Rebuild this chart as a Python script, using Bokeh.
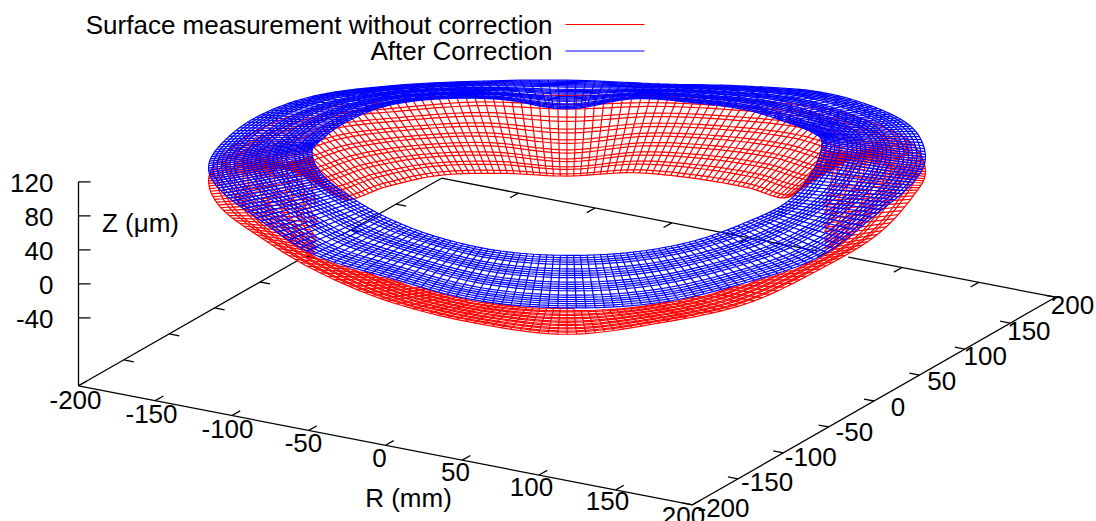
import numpy as np
from bokeh.plotting import figure
from bokeh.models import Range1d
from bokeh.core.properties import value
from bokeh.embed import file_html
from bokeh.resources import INLINE

# ---- values -----------------------------------------------------------
legend_labels = ["Surface measurement without correction", "After Correction"]
z_ticks = [-40, 0, 40, 80, 120]
x_ticks = [-200, -150, -100, -50, 0, 50, 100, 150, 200]
y_ticks = [-200, -150, -100, -50, 0, 50, 100, 150, 200]
red_rings = [143, 145.5, 150.2, 152.7, 157.5, 160, 164.7, 167.2,
             172, 174.5, 179.2, 181.7, 186.5, 189, 193.7, 196.2, 201]
blue_rings = [143, 145.5, 148, 150.2, 152.7, 157.5, 160, 162.5, 164.7, 167.2,
              172, 174.5, 177, 179.2, 181.7, 186.5, 189, 191.5, 193.7, 196.2, 198.6, 201]
mid_radius = 172
# z (um) at every 15 degrees round the ring, seen from the view direction
angle_step = 15
blue_outer = [95, 92, 82, 72, 57, 46, 46, 50, 59, 70, 75, 77, 86, 96, 98, 84, 79, 66, 61, 62, 71, 79, 100, 102]
blue_middle = [103, 95, 84, 76, 65, 57, 50, 59, 69, 78, 82, 85, 95, 101, 101, 91, 85, 75, 71, 72, 78, 85, 97, 104]
blue_inner = [112, 98, 86, 80, 73, 68, 53, 68, 79, 87, 89, 92, 104, 106, 105, 98, 90, 84, 82, 82, 85, 91, 94, 106]
red_outer = [78, 73, 63, 54, 40, 32, 28, 34, 40, 54, 59, 62, 71, 76, 78, 66, 51, 39, 30, 38, 46, 64, 75, 86]
red_middle = [88, 66, 30, 21, 12, 4, -8, 5, 14, 23, 30, 58, 80, 73, 59, 49, 38, 30, 25, 29, 35, 47, 57, 78]
red_inner = [104, 55, -2, -11, -16, -19, -26, -19, -11, -8, -2, 45, 98, 70, 40, 32, 26, 21, 21, 20, 24, 30, 40, 70]

# ---- view (gnuplot-like orthographic projection, page pixels) ----------
W, H = 1096, 521
CX, CY = 566.5, 341.0
XV = (1.535, 0.2975)
YV = (0.9075, -0.519)
ZS, Z0 = 0.85, -120
ROT = np.radians(30.6)
R_IN, R_OUT = 143.0, 201.0


def proj(x, y, z):
    x, y, z = np.asarray(x, float), np.asarray(y, float), np.asarray(z, float)
    return CX + XV[0] * x + YV[0] * y, CY + XV[1] * x + YV[1] * y - ZS * (z - Z0)


def around(table, deg):
    t = np.asarray(table, float)
    n = len(t)
    s = np.asarray(deg) / angle_step
    i = np.floor(s).astype(int)
    f = s - i
    p0, p1, p2, p3 = t[(i - 1) % n], t[i % n], t[(i + 1) % n], t[(i + 2) % n]
    return 0.5 * (2 * p1 + (p2 - p0) * f + (2 * p0 - 5 * p1 + 4 * p2 - p3) * f ** 2 + (3 * p1 - p0 - 3 * p2 + p3) * f ** 3)


def height(inner, middle, outer, deg, r):
    a, b, c = R_IN, mid_radius, R_OUT
    return (around(inner, deg) * (r - b) * (r - c) / ((a - b) * (a - c))
            + around(middle, deg) * (r - a) * (r - c) / ((b - a) * (b - c))
            + around(outer, deg) * (r - a) * (r - b) / ((c - a) * (c - b)))


def point(inner, middle, outer, deg, r):
    th = np.radians(deg)
    u, v = r * np.cos(th), r * np.sin(th)
    x = u * np.cos(ROT) - v * np.sin(ROT)
    y = u * np.sin(ROT) + v * np.cos(ROT)
    return proj(x, y, height(inner, middle, outer, deg, r))


mesh_deg = np.arange(0, 361.5, 1.5)

# lower edge of the blue surface in front: red is hidden behind it there
bd = np.arange(182, 360, 2.0)
bsx, bsy = point(blue_inner, blue_middle, blue_outer, bd, np.full_like(bd, R_OUT))
order = np.argsort(bsx)
bsx, bsy = bsx[order], bsy[order]


def hide_red(sx, sy, deg):
    sy = sy.copy()
    front = (deg > 180) & (deg < 360)
    covered = front & (sx > 317) & (sx < 823) & (sy < np.interp(sx, bsx, bsy) + 0.5)
    sy[covered] = np.nan
    return sy


def mesh(rings, inner, middle, outer, hide=False):
    radii = np.array(rings, float)
    xs, ys = [], []
    for r in radii:
        sx, sy = point(inner, middle, outer, mesh_deg, np.full_like(mesh_deg, r))
        if hide:
            sy = hide_red(sx, sy, mesh_deg)
        xs.append(sx.tolist()); ys.append(sy.tolist())
    for d in mesh_deg[:-1]:
        dd = np.full_like(radii, d)
        sx, sy = point(inner, middle, outer, dd, radii)
        if hide:
            sy = hide_red(sx, sy, dd)
        xs.append(sx.tolist()); ys.append(sy.tolist())
    return xs, ys


p = figure(width=W, height=H, x_range=Range1d(0, W), y_range=Range1d(H, 0),
           output_backend="svg", toolbar_location=None, min_border=0)
p.axis.visible = False
p.grid.visible = False
p.outline_line_color = None
p.background_fill_color = "white"
p.border_fill_color = "white"

AX = dict(line_color="black", line_width=1.3)
# base frame, with the stretches the surface hides left out
edges = [
    ((-200, -200), (200, -200)),
    ((200, -200), (200, 200)),
    ((-200, -200), (-200, 42)),
    ((-200, 89), (-200, 200)),
    ((-200, 200), (45, 200)),
    ((65, 200), (200, 200)),
]
for a, b in edges:
    sx, sy = proj([a[0], b[0]], [a[1], b[1]], [Z0, Z0])
    p.line(sx, sy, **AX)
# z axis
sx, sy = proj([-200, -200], [-200, -200], [Z0, 120])
p.line(sx, sy, **AX)
txs, tys = [], []
for z in z_ticks:
    sx, sy = proj([-200], [-200], [z])
    txs.append([sx[0], sx[0] + 12]); tys.append([sy[0], sy[0]])
for x in x_ticks:
    sx, sy = proj([x, x], [-200, -191], [Z0, Z0])
    txs.append(sx.tolist()); tys.append(sy.tolist())
    if -200 < x < 200:
        sx, sy = proj([x, x], [200, 191], [Z0, Z0])
        txs.append(sx.tolist()); tys.append(sy.tolist())
for y in y_ticks:
    sx, sy = proj([200, 193.5], [y, y], [Z0, Z0])
    txs.append(sx.tolist()); tys.append(sy.tolist())
    if -200 < y < 200:
        sx, sy = proj([-200, -193.5], [y, y], [Z0, Z0])
        txs.append(sx.tolist()); tys.append(sy.tolist())
p.multi_line(txs, tys, **AX)

xs, ys = mesh(red_rings, red_inner, red_middle, red_outer, hide=True)
p.multi_line(xs, ys, line_color="#ff0000", line_width=1.2)
xs, ys = mesh(blue_rings, blue_inner, blue_middle, blue_outer)
p.multi_line(xs, ys, line_color="#0000ff", line_width=1.2)

FONT = value("Liberation Sans")
SIZE = value("26px")
TXT = dict(text_font=FONT, text_font_size=SIZE, text_color="black", text_baseline="middle")

# z labels
zs = np.array(z_ticks, float)
_, sy = proj(np.full_like(zs, -200), np.full_like(zs, -200), zs)
p.text(np.full_like(zs, 53), sy + 1, text=[str(v) for v in z_ticks], text_align="right", **TXT)
# x labels
xv = np.array(x_ticks, float)
sx, sy = proj(xv, np.full_like(xv, -200), np.full_like(xv, Z0))
p.text(sx - 6 - 0.015 * xv, sy + 12.5 - 0.0075 * xv, text=[str(v) for v in x_ticks], text_align="center", **TXT)
# y labels
yv = np.array(y_ticks, float)
sx, sy = proj(np.full_like(yv, 200), yv, np.full_like(yv, Z0))
p.text(sx + 24 - 0.035 * yv, sy + 5.5 + 0.0125 * yv, text=[str(v) for v in y_ticks], text_align="center", **TXT)
# axis titles
p.text([408], [497], text=["R (mm)"], text_align="center", **TXT)
p.text([140], [222], text=["Z (\u03bcm)"], text_align="center", **TXT)
# legend
p.text([552, 552], [24, 50.5], text=legend_labels, text_align="right", **TXT)
p.line([565, 644], [24, 24], line_color="#ff0000", line_width=1)
p.line([565, 644], [50.5, 50.5], line_color="#0000ff", line_width=1)

open("out.html", "w").write(file_html(p, INLINE))
